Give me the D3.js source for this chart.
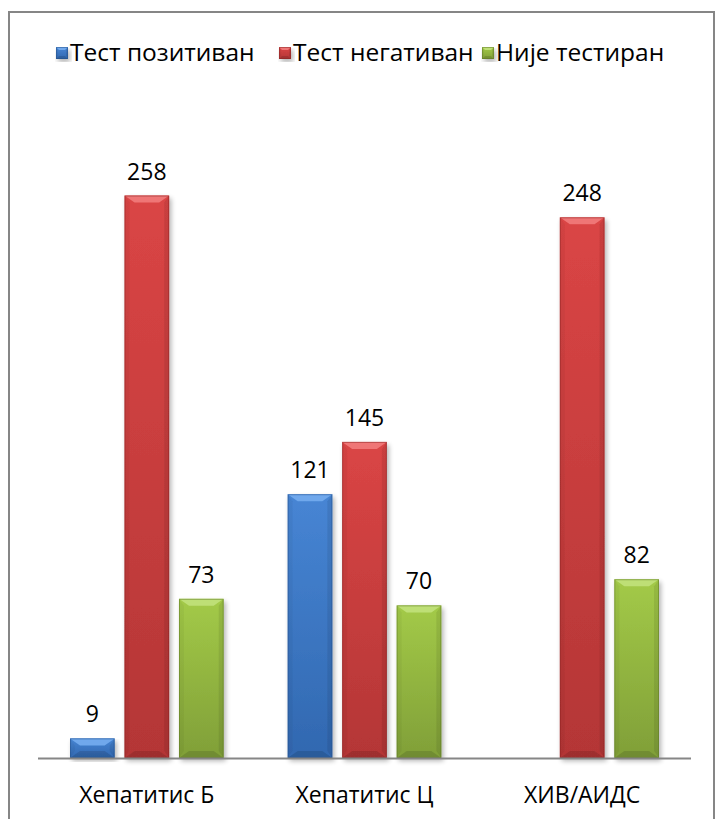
<!DOCTYPE html>
<html>
<head>
<meta charset="utf-8">
<script src="https://cdn.jsdelivr.net/npm/d3@7"></script>
<style>
  body { margin: 0; background: #fff; }
  svg { display: block; }
  text { font-family: "Open Sans", "Noto Sans", sans-serif; fill: #000; }
</style>
</head>
<body>
<div class="container"></div>
<script>
const categories = ['Хепатитис Б', 'Хепатитис Ц', 'ХИВ/АИДС'];
const seriesNames = ['Тест позитиван', 'Тест негативан', 'Није тестиран'];
const positive = [9, 121, 0];
const negative = [258, 145, 248];
const notTested = [73, 70, 82];
const yMax = 300;

const w = 715;
const h = 819;

const margin = {
    top: 104,
    right: 24,
    bottom: 61,
    left: 38
};

// colours per series: top, bottom, bevel highlight, edge
const colors = [
    { top: '#4785d4', bottom: '#3168b0', light: '#6fa8ec', edge: '#23508a' },
    { top: '#da4545', bottom: '#b43636', light: '#ef7676', edge: '#8a2424' },
    { top: '#a3ca48', bottom: '#809f38', light: '#bedf76', edge: '#5e7726' }
];

const values = [positive, negative, notTested];
const data = categories.map((c, i) => ({
    category: c,
    items: seriesNames.map((s, j) => ({ series: s, idx: j, value: values[j][i] }))
}));

const svg = d3.select('.container')
    .append('svg')
    .attr('width', w)
    .attr('height', h);

const defs = svg.append('defs');

colors.forEach((c, i) => {
    const g = defs.append('linearGradient')
        .attr('id', 'grad' + i)
        .attr('x1', 0).attr('y1', 0).attr('x2', 0).attr('y2', 1);
    g.append('stop').attr('offset', '0%').attr('stop-color', c.top);
    g.append('stop').attr('offset', '100%').attr('stop-color', c.bottom);
});

const shadow = defs.append('filter')
    .attr('id', 'shadow')
    .attr('x', '-20%').attr('y', '-10%')
    .attr('width', '150%').attr('height', '130%');
shadow.append('feGaussianBlur').attr('in', 'SourceAlpha').attr('stdDeviation', 2.5);
shadow.append('feOffset').attr('dx', 2).attr('dy', 3).attr('result', 'blur');
shadow.append('feComponentTransfer').append('feFuncA').attr('type', 'linear').attr('slope', 0.3);
const merge = shadow.append('feMerge');
merge.append('feMergeNode');
merge.append('feMergeNode').attr('in', 'SourceGraphic');

// frame
svg.append('rect')
    .attr('x', 9)
    .attr('y', 12)
    .attr('width', 705)
    .attr('height', 830)
    .attr('fill', 'none')
    .attr('stroke', '#868686')
    .attr('stroke-width', 2);

const x0 = d3.scaleBand()
    .domain(categories)
    .range([margin.left, w - margin.right]);

const x1 = d3.scaleBand()
    .domain(seriesNames)
    .range([32, x0.bandwidth() - 32])
    .paddingInner(0.18);

const y = d3.scaleLinear()
    .domain([0, yMax])
    .range([h - margin.bottom, margin.top]);

// beveled bar
function bevelBar(g, x, yTop, bw, bh, ci, bx, by, sx) {
    const c = colors[ci];
    const b = Math.min(by, bh / 2);
    const grp = g.append('g').attr('filter', 'url(#shadow)');
    grp.append('rect')
        .attr('x', x).attr('y', yTop)
        .attr('width', bw).attr('height', bh)
        .attr('fill', `url(#grad${ci})`);
    // left / right side
    grp.append('polygon')
        .attr('points', [[x, yTop], [x + sx, yTop + b], [x + sx, yTop + bh - b], [x, yTop + bh]].join(' '))
        .attr('fill', '#000').attr('fill-opacity', 0.04);
    grp.append('polygon')
        .attr('points', [[x + bw, yTop], [x + bw - sx, yTop + b], [x + bw - sx, yTop + bh - b], [x + bw, yTop + bh]].join(' '))
        .attr('fill', '#000').attr('fill-opacity', 0.08);
    // top highlight
    grp.append('polygon')
        .attr('points', [[x, yTop], [x + bw, yTop], [x + bw - bx, yTop + b], [x + bx, yTop + b]].join(' '))
        .attr('fill', c.light);
    // bottom
    grp.append('polygon')
        .attr('points', [[x, yTop + bh], [x + bw, yTop + bh], [x + bw - bx, yTop + bh - b], [x + bx, yTop + bh - b]].join(' '))
        .attr('fill', '#000').attr('fill-opacity', 0.12);
    grp.append('rect')
        .attr('x', x + 0.5).attr('y', yTop + 0.5)
        .attr('width', bw - 1).attr('height', bh - 1)
        .attr('fill', 'none')
        .attr('stroke', c.edge).attr('stroke-opacity', 0.5);
}

const bars = svg.append('g');
data.forEach(d => {
    d.items.filter(it => it.value > 0).forEach(it => {
        const bx = x0(d.category) + x1(it.series);
        const top = y(it.value);
        bevelBar(bars, bx, top, x1.bandwidth(), y(0) - top, it.idx, 10, 7, 5);
        bars.append('text')
            .attr('x', bx + x1.bandwidth() / 2)
            .attr('y', top - 16)
            .attr('text-anchor', 'middle')
            .style('font-size', '23px')
            .text(it.value);
    });
});

// baseline
svg.append('line')
    .attr('x1', margin.left).attr('x2', w - margin.right)
    .attr('y1', y(0) + 0.5).attr('y2', y(0) + 0.5)
    .attr('stroke', '#868686')
    .attr('stroke-width', 2);

// category labels
svg.append('g')
    .selectAll('text')
    .data(categories)
    .join('text')
    .attr('x', d => x0(d) + x0.bandwidth() / 2)
    .attr('y', 803)
    .attr('text-anchor', 'middle')
    .style('font-size', '23px')
    .text(d => d);

// legend
const legendX = [56, 279, 482];
const legend = svg.append('g');
seriesNames.forEach((s, i) => {
    bevelBar(legend, legendX[i], 47, 12, 12, i, 3, 3, 2);
    legend.append('text')
        .attr('x', legendX[i] + 14)
        .attr('y', 61)
        .style('font-size', '24.5px')
        .text(s);
});
</script>
</body>
</html>
